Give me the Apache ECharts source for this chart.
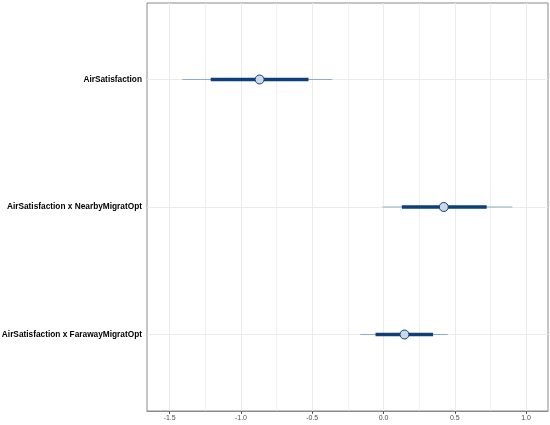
<!DOCTYPE html>
<html><head><meta charset="utf-8">
<script src="https://cdn.jsdelivr.net/npm/echarts@6/dist/echarts.min.js"></script>
<style>html,body{margin:0;padding:0;background:#fff}#c{width:550px;height:425px}</style>
</head><body><div id="c"></div>
<script>
const terms = ["AirSatisfaction", "AirSatisfaction x NearbyMigratOpt", "AirSatisfaction x FarawayMigratOpt"];
const estimate = [-0.869, 0.423, 0.147];
const outerLow = [-1.411, -0.007, -0.163];
const outerHigh = [-0.360, 0.904, 0.451];
const innerLow = [-1.212, 0.129, -0.056];
const innerHigh = [-0.526, 0.724, 0.348];
const xTicks = [-1.5, -1.0, -0.5, 0.0, 0.5, 1.0];
const xMinor = [-1.25, -0.75, -0.25, 0.25, 0.75];
const xRange = [-1.659, 1.154];
const rowPos = [1, 2, 3];

const gridColor = '#ebebeb';
const series = [];

series.push({
  type: 'line', silent: true, z: 1, data: [], symbol: 'none',
  markLine: {
    silent: true, symbol: 'none', label: {show: false}, animation: false, z: 1,
    data: [
      ...xMinor.map(v => ({xAxis: v, lineStyle: {color: gridColor, width: 0.8, type: 'solid'}})),
      ...xTicks.map(v => ({xAxis: v, lineStyle: {color: gridColor, width: 1, type: 'solid'}})),
      ...rowPos.map(v => ({yAxis: v, lineStyle: {color: gridColor, width: 1, type: 'solid'}}))
    ]
  }
});

terms.forEach((t, i) => {
  series.push({
    type: 'line', silent: true, z: 6, symbol: 'none',
    data: [[outerLow[i], rowPos[i]], [outerHigh[i], rowPos[i]]],
    lineStyle: {color: '#8eadcc', width: 1.2}
  });
  series.push({
    type: 'line', silent: true, z: 7, symbol: 'none',
    data: [[innerLow[i], rowPos[i]], [innerHigh[i], rowPos[i]]],
    lineStyle: {color: '#0e3f78', width: 3.6, cap: 'butt'}
  });
});

series.push({
  type: 'scatter', z: 8, silent: true,
  data: estimate.map((e, i) => [e, rowPos[i]]),
  symbol: 'circle', symbolSize: 9,
  itemStyle: {color: '#cdd8e6', borderColor: '#0e3f78', borderWidth: 1, opacity: 1}
});

const chart = echarts.init(document.getElementById('c'), null, {renderer: 'canvas'});
chart.setOption({
  animation: false,
  grid: {left: 147, right: 2, top: 3, bottom: 14, outerBoundsMode: 'none', containLabel: false,
    show: true, borderColor: '#8a8a8a', borderWidth: 1, backgroundColor: '#fff'},
  xAxis: {
    type: 'value', min: xRange[0], max: xRange[1],
    axisLine: {show: true, lineStyle: {color: '#8a8a8a'}},
    splitLine: {show: false},
    axisTick: {show: true, length: 3, lineStyle: {color: '#555'}, customValues: xTicks},
    axisLabel: {customValues: xTicks, fontSize: 7, color: '#4d4d4d', margin: 4, fontFamily: 'Liberation Sans',
      formatter: v => v.toFixed(1)}
  },
  yAxis: {
    type: 'value', min: 0.4, max: 3.6, inverse: true,
    axisLine: {show: true, lineStyle: {color: '#8a8a8a'}},
    splitLine: {show: false},
    axisTick: {show: true, length: 3, lineStyle: {color: '#555'}, customValues: rowPos},
    axisLabel: {customValues: rowPos, fontSize: 8.3, fontWeight: 'bold', color: '#000', margin: 5,
      fontFamily: 'Liberation Sans', formatter: v => terms[Math.round(v) - 1]}
  },
  series: series
});
</script></body></html>
